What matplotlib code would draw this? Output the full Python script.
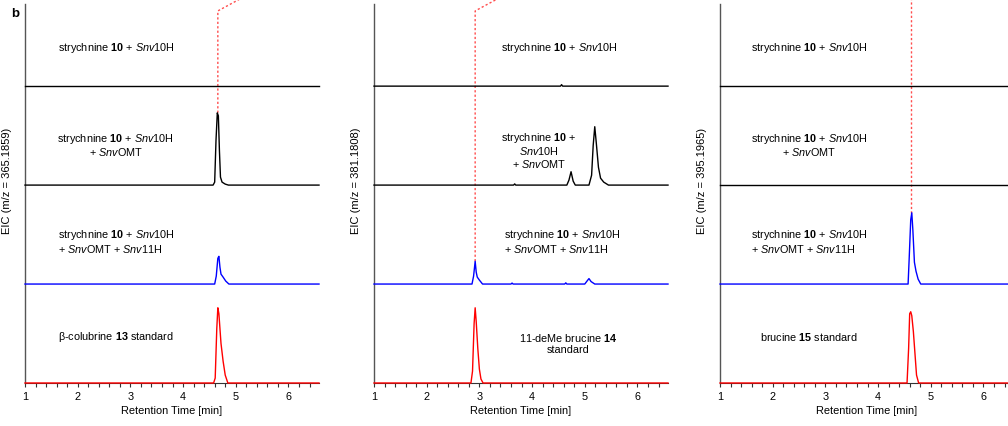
import matplotlib
matplotlib.use("Agg")
import matplotlib.pyplot as plt
from matplotlib.ticker import MultipleLocator

plt.rcParams['font.family'] = ['Liberation Sans', 'DejaVu Sans']
plt.rcParams['mathtext.fontset'] = 'custom'
plt.rcParams['mathtext.rm'] = 'Liberation Sans'
plt.rcParams['mathtext.it'] = 'Liberation Sans:italic'
plt.rcParams['mathtext.bf'] = 'Liberation Sans:bold'

# ──────────────────────────────────────────────
# Data (retention time [min], EIC scaled to one lane = 1)
# ──────────────────────────────────────────────
mz_labels = ["365.1859", "381.1808", "395.1965"]

# panel 1 : m/z 365.1859
p1_t1 = [1.0, 6.58]
p1_y1 = [0, 0]
p1_t2 = [1.0, 4.57, 4.60, 4.625, 4.65, 4.67, 4.69, 4.71, 4.74, 4.80, 4.86, 6.58]
p1_y2 = [0, 0, 0.03, 0.45, 0.73, 0.70, 0.35, 0.08, 0.03, 0.01, 0, 0]
p1_t3 = [1.0, 4.60, 4.63, 4.66, 4.68, 4.70, 4.72, 4.76, 4.81, 4.87, 6.58]
p1_y3 = [0, 0, 0.08, 0.26, 0.28, 0.17, 0.10, 0.07, 0.03, 0, 0]
p1_t4 = [1.0, 4.58, 4.61, 4.64, 4.66, 4.68, 4.72, 4.76, 4.80, 4.85, 6.58]
p1_y4 = [0, 0, 0.05, 0.55, 0.76, 0.70, 0.40, 0.22, 0.08, 0, 0]

# panel 2 : m/z 381.1808
p2_t1 = [1.0, 4.54, 4.56, 4.58, 6.58]
p2_y1 = [0, 0, 0.015, 0, 0]
p2_t2 = [1.0, 3.65, 3.67, 3.69, 4.66, 4.70, 4.74, 4.78, 4.82,
         5.08, 5.13, 5.16, 5.19, 5.22, 5.26, 5.30, 5.36, 5.45, 6.58]
p2_y2 = [0, 0, 0.012, 0, 0, 0.05, 0.135, 0.04, 0,
         0, 0.10, 0.40, 0.59, 0.42, 0.18, 0.07, 0.03, 0, 0]
p2_t3 = [1.0, 2.86, 2.89, 2.92, 2.94, 2.96, 3.00, 3.06, 3.60, 3.62, 3.64,
         4.62, 4.64, 4.66, 5.00, 5.05, 5.08, 5.12, 5.19, 6.58]
p2_y3 = [0, 0, 0.08, 0.23, 0.12, 0.07, 0.04, 0, 0, 0.01, 0,
         0, 0.012, 0, 0, 0.035, 0.055, 0.025, 0, 0]
p2_t4 = [1.0, 2.84, 2.87, 2.90, 2.92, 2.94, 2.97, 3.00, 3.03, 3.07, 6.58]
p2_y4 = [0, 0, 0.12, 0.60, 0.76, 0.62, 0.35, 0.14, 0.04, 0, 0]

# panel 3 : m/z 395.1965
p3_t1 = [1.0, 6.58]
p3_y1 = [0, 0]
p3_t2 = [1.0, 6.58]
p3_y2 = [0, 0]
p3_t3 = [1.0, 4.57, 4.59, 4.62, 4.64, 4.66, 4.69, 4.72, 4.76, 4.81, 6.58]
p3_y3 = [0, 0, 0.25, 0.65, 0.72, 0.55, 0.22, 0.13, 0.05, 0, 0]
p3_t4 = [1.0, 4.55, 4.58, 4.60, 4.62, 4.64, 4.67, 4.70, 4.73, 4.77, 6.58]
p3_y4 = [0, 0, 0.35, 0.70, 0.72, 0.68, 0.52, 0.30, 0.08, 0, 0]

# retention time of the product marked with the dotted guide
guide_rt = [4.66, 2.92, 4.62]

lbl_a = r"strychnine $\mathbf{10}$ + $\mathit{Snv}$10H"
lbl_b = r"strychnine $\mathbf{10}$ + $\mathit{Snv}$10H" + "\n" + r"+ $\mathit{Snv}$OMT"
lbl_b2 = r"strychnine $\mathbf{10}$ +" + "\n" + r"$\mathit{Snv}$10H" + "\n" + r"+ $\mathit{Snv}$OMT"
lbl_c = (r"strychnine $\mathbf{10}$ + $\mathit{Snv}$10H" + "\n"
         + r"+ $\mathit{Snv}$OMT + $\mathit{Snv}$11H")
std_labels = [r"β-colubrine $\mathbf{13}$ standard",
              r"11-deMe brucine $\mathbf{14}$" + "\n" + "standard",
              r"brucine $\mathbf{15}$ standard"]

panels = [
    [(p1_t1, p1_y1), (p1_t2, p1_y2), (p1_t3, p1_y3), (p1_t4, p1_y4)],
    [(p2_t1, p2_y1), (p2_t2, p2_y2), (p2_t3, p2_y3), (p2_t4, p2_y4)],
    [(p3_t1, p3_y1), (p3_t2, p3_y2), (p3_t3, p3_y3), (p3_t4, p3_y4)],
]
# which trace the guide runs down to (0 = top lane)
guide_trace = [1, 2, 2]
trace_colors = ['black', 'black', '#0000ff', '#ff0000']

# ──────────────────────────────────────────────
# Figure
# ──────────────────────────────────────────────
W, H = 1008, 427
fig = plt.figure(figsize=(W / 100, H / 100), dpi=100)

lefts = [25, 374, 720]
ax_w = 294
ax_bottom, ax_top = 384, 5

# text placements (axes fraction) per panel: list of (x, y, ha, text)
text_pos = [
    [(0.112, 0.887, 'left', lbl_a), (0.308, 0.631, 'center', lbl_b),
     (0.112, 0.376, 'left', lbl_c), (0.112, 0.124, 'left', std_labels[0])],
    [(0.632, 0.887, 'center', lbl_a), (0.561, 0.617, 'center', lbl_b2),
     (0.442, 0.376, 'left', lbl_c), (0.660, 0.107, 'center', std_labels[1])],
    [(0.303, 0.887, 'center', lbl_a), (0.303, 0.631, 'center', lbl_b),
     (0.105, 0.376, 'left', lbl_c), (0.303, 0.124, 'center', std_labels[2])],
]

ytop = 3.83
for i, traces in enumerate(panels):
    ax = fig.add_axes([lefts[i] / W, (H - ax_bottom) / H,
                       ax_w / W, (ax_bottom - ax_top) / H])
    n = len(traces)
    for k, (t, y) in enumerate(traces):
        off = n - 1 - k
        ax.plot(t, [v + off for v in y], color=trace_colors[k], lw=1.0,
                clip_on=False, zorder=3)

    # dotted guide line
    gx = guide_rt[i]
    gk = guide_trace[i]
    gbot = max(traces[gk][1]) + (n - 1 - gk)
    if i < 2:
        ax.plot([gx, gx, gx + 0.8], [gbot, 3.76, 3.99], ls=(0, (1.6, 1.6)),
                color='#ff4d4d', lw=1.0, clip_on=False, zorder=2)
    else:
        ax.plot([gx, gx], [gbot, 4.0], ls=(0, (1.6, 1.6)),
                color='#ff4d4d', lw=1.0, clip_on=False, zorder=2)

    for (tx, ty, ha, s) in text_pos[i]:
        ax.text(tx, ty, s, transform=ax.transAxes, ha=ha, va='center',
                multialignment=ha, fontsize=7.8, linespacing=1.05)

    ax.set_xlim(1, 6.58)
    ax.set_ylim(0, ytop)
    ax.set_xticks(range(1, 7))
    ax.xaxis.set_minor_locator(MultipleLocator(0.2))
    ax.tick_params(axis='x', which='both', direction='out', length=3,
                   width=0.8, color='#333333', labelsize=7.8, pad=3)
    ax.set_yticks([])
    for side in ['top', 'right']:
        ax.spines[side].set_visible(False)
    ax.spines['left'].set_color('#555555')
    ax.spines['bottom'].set_color('#333333')
    ax.spines['left'].set_linewidth(1.0)
    ax.set_facecolor('none')

    ax.set_xlabel("Retention Time [min]", fontsize=7.9, labelpad=3)
    ax.set_ylabel(f"EIC (m/z = {mz_labels[i]})", fontsize=8)
    ax.yaxis.set_label_coords(-0.044, 0.535)

fig.text(15 / W, 1 - 14 / H, "b", fontsize=9.5, fontweight='bold',
         ha='center', va='center')

fig.savefig("out.png", dpi=100)
